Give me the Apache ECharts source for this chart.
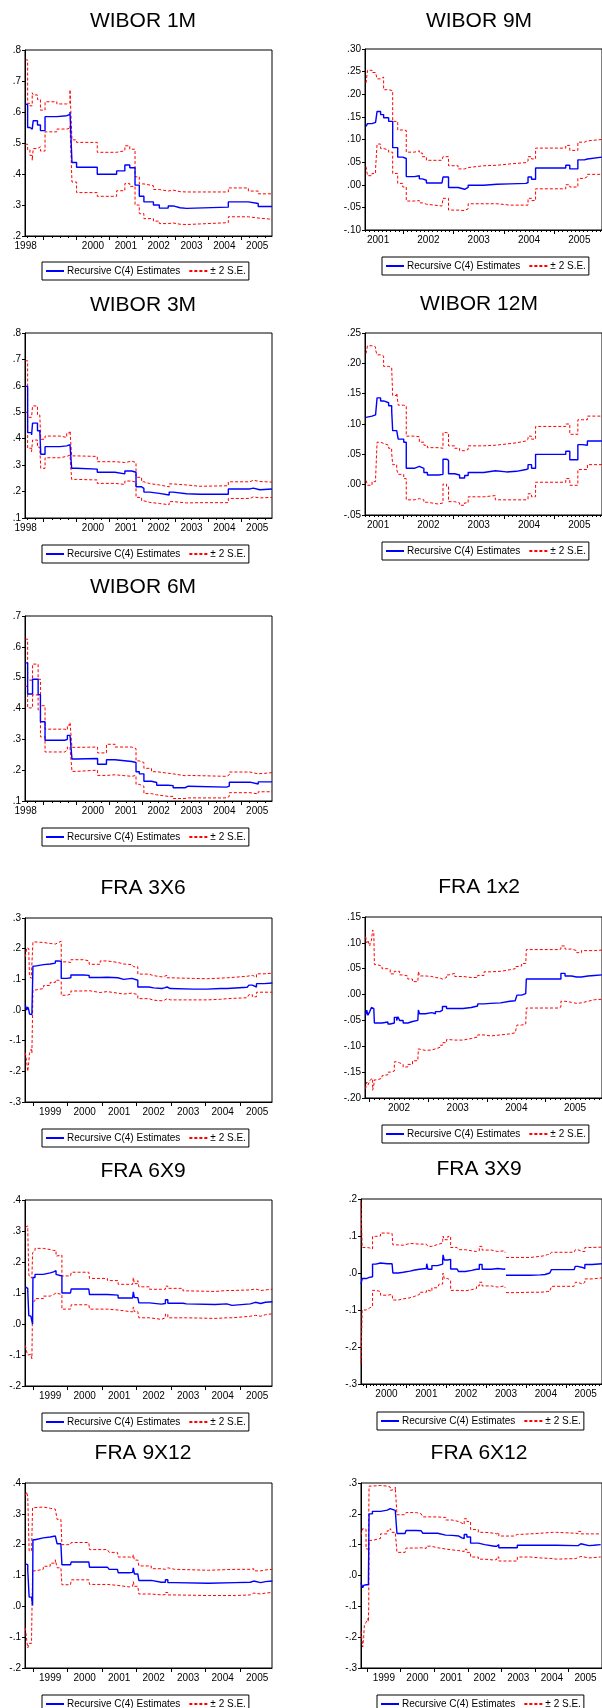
<!DOCTYPE html>
<html lang="en" style="height: 100%">
<head>
<meta charset="utf-8">
<title>Recursive C(4) estimates - WIBOR and FRA</title>
</head>
<body style="height: 100%; margin: 0; background: #ffffff">
<div id="container" style="width: 602px; height: 1708px"></div>

<script type="text/javascript" src="https://cdn.jsdelivr.net/npm/echarts/dist/echarts.min.js"></script>

<script type="text/javascript">

// Series values (decimal year where a level starts, estimate, +2 S.E., -2 S.E.)
var w1mT = [1998.44, 1998.51, 1998.58, 1998.65, 1998.68, 1998.81, 1998.90, 1999.04, 1999.40, 1999.70, 1999.80, 1999.86, 2000.00, 2000.63, 2001.22, 2001.47, 2001.62, 2001.78, 2001.91, 2002.05, 2002.34, 2002.52, 2002.79, 2002.94, 2003.15, 2003.35, 2004.62, 2005.23, 2005.53, 2005.95];
var w1mEst = [.625, .550, .545, .540, .572, .558, .540, .585, .588, .592, .600, .437, .422, .399, .410, .429, .420, .364, .328, .310, .300, .290, .297, .291, .289, .293, .310, .305, .295, .295];
var w1mUp = [.768, .628, .620, .662, .655, .640, .606, .633, .626, .630, .672, .510, .502, .470, .475, .491, .480, .391, .368, .362, .350, .345, .348, .343, .342, .342, .355, .345, .336, .334];
var w1mLo = [.496, .478, .460, .444, .482, .488, .474, .536, .545, .548, .555, .374, .340, .328, .346, .369, .360, .300, .272, .256, .248, .240, .242, .238, .237, .243, .262, .258, .254, .253];

var w3mT = [1998.44, 1998.51, 1998.63, 1998.66, 1998.81, 1998.88, 1998.91, 1999.04, 1999.49, 1999.70, 1999.80, 1999.85, 2000.00, 2000.63, 2001.17, 2001.47, 2001.68, 2001.81, 2001.98, 2002.05, 2002.23, 2002.52, 2002.82, 2002.94, 2003.35, 2003.76, 2004.62, 2005.28, 2005.38, 2005.58, 2005.95];
var w3mEst = [.598, .423, .414, .459, .430, .425, .341, .370, .373, .378, .384, .288, .285, .273, .267, .278, .273, .218, .212, .198, .193, .187, .198, .192, .190, .190, .210, .213, .207, .210, .210];
var w3mUp = [.695, .481, .485, .524, .490, .485, .398, .410, .405, .422, .430, .335, .333, .313, .310, .315, .310, .254, .237, .230, .225, .218, .229, .225, .220, .222, .237, .243, .238, .236, .236];
var w3mLo = [.500, .364, .351, .395, .368, .365, .288, .328, .333, .338, .343, .246, .244, .231, .227, .240, .235, .178, .165, .159, .155, .150, .162, .157, .158, .158, .174, .180, .176, .178, .178];

var w6mT = [1998.44, 1998.51, 1998.66, 1998.83, 1998.90, 1999.04, 1999.64, 1999.72, 1999.80, 1999.86, 2000.00, 2000.64, 2000.91, 2001.17, 2001.68, 2001.81, 2001.91, 2002.05, 2002.28, 2002.44, 2002.79, 2002.94, 2003.30, 2003.40, 2004.57, 2004.65, 2005.28, 2005.33, 2005.53, 2005.95];
var w6mEst = [.548, .447, .495, .445, .357, .297, .300, .313, .313, .236, .238, .219, .234, .228, .225, .195, .188, .164, .160, .151, .150, .143, .148, .145, .148, .161, .161, .155, .162, .162];
var w6mUp = [.625, .492, .544, .495, .409, .333, .330, .346, .355, .274, .275, .256, .284, .275, .270, .230, .225, .206, .195, .190, .188, .182, .183, .180, .185, .194, .195, .188, .192, .192];
var w6mLo = [.472, .402, .444, .395, .308, .259, .265, .275, .275, .196, .200, .183, .185, .180, .183, .154, .148, .124, .120, .115, .115, .108, .110, .110, .115, .127, .128, .123, .130, .130];

var w9mT = [2001.26, 2001.29, 2001.38, 2001.45, 2001.48, 2001.55, 2001.61, 2001.71, 2001.79, 2001.89, 2001.99, 2002.06, 2002.22, 2002.32, 2002.38, 2002.46, 2002.77, 2002.79, 2002.90, 2003.09, 2003.22, 2003.29, 2003.60, 2003.86, 2004.12, 2004.44, 2004.48, 2004.55, 2004.63, 2005.23, 2005.31, 2005.47, 2005.60, 2005.66, 2005.95];
var w9mEst = [.129, .135, .138, .140, .162, .155, .148, .140, .082, .061, .058, .018, .020, .013, .010, .004, .004, .017, -.006, -.010, -.006, -.001, .001, .002, .003, .005, .017, .012, .037, .043, .035, .055, .057, .061, .061];
var w9mUp = [.225, .253, .248, .245, .234, .238, .210, .208, .140, .121, .120, .072, .075, .070, .062, .054, .050, .062, .042, .035, .038, .042, .043, .046, .049, .052, .062, .057, .081, .087, .076, .094, .097, .100, .100];
var w9mLo = [.040, .020, .025, .035, .090, .080, .077, .072, .025, .003, -.005, -.036, -.035, -.040, -.043, -.047, -.044, -.030, -.056, -.057, -.053, -.042, -.042, -.045, -.045, -.045, -.030, -.035, -.009, .000, -.005, .014, .018, .023, .023];

var w12mT = [2001.26, 2001.29, 2001.38, 2001.45, 2001.48, 2001.55, 2001.61, 2001.71, 2001.77, 2001.79, 2001.87, 2001.90, 2002.01, 2002.06, 2002.22, 2002.32, 2002.41, 2002.48, 2002.70, 2002.79, 2002.86, 2002.90, 2003.02, 2003.12, 2003.22, 2003.29, 2003.60, 2003.83, 2004.05, 2004.25, 2004.44, 2004.48, 2004.55, 2004.63, 2005.23, 2005.31, 2005.47, 2005.56, 2005.66, 2005.95];
var w12mEst = [.111, .113, .115, .118, .143, .138, .135, .130, .122, .089, .088, .075, .070, .027, .030, .027, .020, .016, .017, .042, .040, .018, .016, .011, .015, .020, .023, .021, .022, .025, .026, .033, .027, .050, .055, .041, .066, .065, .072, .072];
var w12mUp = [.216, .229, .227, .222, .214, .212, .195, .193, .190, .147, .151, .131, .130, .080, .079, .070, .065, .061, .060, .086, .085, .064, .060, .056, .058, .064, .065, .067, .069, .072, .075, .080, .075, .096, .100, .083, .107, .107, .113, .113];
var w12mLo = [.007, -.001, .005, .010, .070, .068, .065, .060, .052, .033, .025, .017, .010, -.025, -.023, -.025, -.029, -.032, -.030, .001, -.003, -.028, -.030, -.034, -.030, -.020, -.018, -.025, -.025, -.025, -.024, -.015, -.020, .004, .010, -.001, .025, .025, .033, .033];

var f36T = [1998.78, 1998.82, 1998.85, 1998.88, 1998.90, 1998.95, 1998.97, 1999.00, 1999.06, 1999.31, 1999.50, 1999.65, 1999.74, 1999.82, 1999.98, 2000.10, 2000.47, 2000.63, 2000.95, 2001.15, 2001.46, 2001.63, 2001.87, 2001.92, 2002.04, 2002.36, 2002.50, 2002.74, 2002.81, 2002.89, 2002.98, 2003.66, 2004.05, 2004.44, 2004.63, 2005.21, 2005.26, 2005.36, 2005.48, 2005.70, 2005.94];
var f36Est = [.016, .000, .010, .000, -.013, -.015, -.018, .143, .148, .150, .153, .160, .158, .103, .105, .114, .113, .106, .107, .105, .100, .103, .105, .097, .075, .072, .070, .072, .075, .070, .068, .068, .070, .070, .074, .075, .081, .075, .086, .088, .088];
var f36Up = [.173, .203, .200, .190, .110, .103, .100, .222, .220, .217, .215, .220, .224, .157, .155, .164, .160, .149, .160, .155, .150, .148, .150, .141, .117, .112, .108, .110, .113, .105, .103, .102, .104, .105, .110, .110, .113, .107, .118, .120, .120];
var f36Lo = [-.139, -.170, -.200, -.170, -.141, -.128, -.140, .065, .070, .080, .090, .097, .093, .048, .052, .062, .063, .057, .060, .055, .052, .055, .058, .050, .037, .032, .030, .032, .037, .033, .033, .033, .035, .037, .040, .042, .050, .043, .058, .058, .058];

var f12T = [2001.93, 2001.95, 2001.97, 2002.00, 2002.01, 2002.03, 2002.05, 2002.07, 2002.08, 2002.12, 2002.21, 2002.23, 2002.31, 2002.35, 2002.42, 2002.46, 2002.48, 2002.51, 2002.57, 2002.65, 2002.73, 2002.82, 2002.83, 2002.85, 2002.95, 2003.06, 2003.12, 2003.20, 2003.24, 2003.31, 2003.35, 2003.45, 2003.59, 2003.73, 2003.84, 2003.95, 2004.06, 2004.23, 2004.39, 2004.48, 2004.51, 2004.59, 2004.66, 2004.67, 2005.22, 2005.26, 2005.33, 2005.44, 2005.53, 2005.61, 2005.72, 2005.83, 2005.96];
var f12Est = [-.040, -.030, -.040, -.033, -.035, -.025, -.027, -.030, -.055, -.055, -.052, -.053, -.057, -.055, -.044, -.050, -.043, -.050, -.055, -.052, -.050, -.050, -.030, -.037, -.035, -.037, -.033, -.030, -.023, -.027, -.027, -.027, -.025, -.022, -.018, -.017, -.016, -.013, -.012, -.010, -.001, .002, .003, .030, .030, .041, .036, .034, .034, .036, .037, .038, .038];
var f12Up = [.112, .100, .105, .094, .100, .105, .125, .120, .058, .055, .050, .050, .048, .040, .045, .045, .045, .038, .036, .030, .025, .025, .045, .036, .035, .033, .032, .030, .033, .038, .041, .035, .033, .033, .037, .044, .045, .048, .050, .054, .055, .060, .062, .087, .088, .094, .088, .085, .081, .085, .085, .086, .086];
var f12Lo = [-.182, -.169, -.175, -.172, -.165, -.162, -.185, -.175, -.165, -.162, -.157, -.155, -.150, -.148, -.130, -.127, -.132, -.135, -.140, -.135, -.128, -.125, -.105, -.108, -.107, -.105, -.102, -.098, -.093, -.087, -.088, -.088, -.085, -.082, -.078, -.080, -.078, -.076, -.074, -.072, -.059, -.057, -.055, -.026, -.024, -.013, -.015, -.017, -.016, -.013, -.010, -.009, -.009];

var f69T = [1998.78, 1998.82, 1998.85, 1998.88, 1998.90, 1998.94, 1998.97, 1998.99, 1999.00, 1999.06, 1999.30, 1999.50, 1999.60, 1999.67, 1999.70, 1999.84, 2000.09, 2000.11, 2000.62, 2000.64, 2001.16, 2001.47, 2001.89, 2001.91, 2001.94, 2002.04, 2002.07, 2002.38, 2002.72, 2002.84, 2002.91, 2003.35, 2003.45, 2004.28, 2004.62, 2004.77, 2005.30, 2005.45, 2005.60, 2005.74, 2005.94];
var f69Est = [.120, .115, .106, .027, .025, .022, .020, .000, .150, .160, .165, .168, .172, .160, .155, .100, .100, .113, .112, .095, .093, .084, .083, .104, .085, .090, .068, .064, .066, .078, .067, .065, .063, .065, .060, .065, .070, .066, .070, .072, .072];
var f69Up = [.312, .316, .305, .160, .152, .148, .145, .230, .236, .244, .240, .237, .238, .219, .222, .155, .157, .167, .163, .147, .140, .128, .125, .150, .130, .140, .120, .112, .112, .122, .115, .107, .105, .108, .108, .110, .113, .108, .110, .112, .112];
var f69Lo = [-.069, -.090, -.100, -.095, -.098, -.100, -.112, .070, .075, .082, .090, .095, .100, .097, .095, .048, .050, .062, .058, .048, .045, .039, .040, .055, .040, .040, .020, .015, .020, .032, .020, .020, .018, .020, .020, .025, .028, .025, .030, .033, .033];

var f39T = [1999.86, 1999.89, 1999.99, 2000.07, 2000.15, 2000.23, 2000.35, 2000.52, 2000.64, 2000.66, 2000.80, 2000.92, 2001.09, 2001.21, 2001.33, 2001.50, 2001.51, 2001.54, 2001.64, 2001.78, 2001.82, 2001.91, 2001.92, 2001.95, 2002.04, 2002.11, 2002.27, 2002.31, 2002.48, 2002.64, 2002.76, 2002.83, 2002.90, 2003.13, 2003.29, 2003.46, 2003.48, 2003.50, 2003.78, 2004.11, 2004.36, 2004.48, 2004.54, 2004.60, 2004.64, 2005.21, 2005.24, 2005.30, 2005.42, 2005.48, 2005.66, 2005.93];
var f39Est = [-.030, -.015, -.012, -.010, .024, .027, .025, .025, .025, .000, .002, .005, .008, .010, .012, .013, .025, .010, .020, .020, .024, .034, .049, .035, .037, .011, .010, .004, .007, .010, .010, .023, .010, .012, .010, .012, null, -.006, -.006, -.005, -.004, -.002, .000, -.002, .009, .010, .018, .015, .012, .023, .025, .027];
var f39Up = [.190, .069, .068, .065, .099, .100, .108, .107, .105, .076, .075, .080, .079, .078, .078, .077, .077, .072, .077, .080, .081, .088, .100, .090, .099, .069, .065, .063, .060, .058, .060, .072, .062, .058, .060, .055, null, .042, .042, .045, .047, .050, .050, .050, .056, .055, .063, .058, .058, .069, .070, .070];
var f39Lo = [-.244, -.100, -.095, -.090, -.047, -.050, -.060, -.058, -.055, -.073, -.070, -.067, -.063, -.058, -.052, -.050, -.045, -.050, -.040, -.035, -.030, -.010, .000, -.015, -.020, -.047, -.048, -.048, -.045, -.042, -.035, -.025, -.035, -.038, -.035, -.040, null, -.053, -.052, -.052, -.051, -.050, -.050, -.050, -.036, -.036, -.025, -.030, -.025, -.016, -.013, -.012];

var f912T = [1998.78, 1998.82, 1998.85, 1998.89, 1998.96, 1998.99, 1999.00, 1999.06, 1999.30, 1999.50, 1999.65, 1999.70, 1999.81, 1999.84, 2000.09, 2000.11, 2000.62, 2000.64, 2001.16, 2001.21, 2001.45, 2001.47, 2001.79, 2001.89, 2001.91, 2001.94, 2002.04, 2002.07, 2002.43, 2002.72, 2002.84, 2002.91, 2003.11, 2004.09, 2004.87, 2005.30, 2005.40, 2005.60, 2005.74, 2005.94];
var f912Est = [.138, .135, .117, .030, .035, .003, .216, .222, .225, .228, .232, .203, .200, .135, .135, .144, .145, .127, .127, .120, .120, .109, .110, .105, .125, .105, .105, .084, .078, .078, .086, .077, .075, .077, .078, .082, .077, .080, .082, .082];
var f912Up = [.360, .371, .355, .180, .175, .320, .320, .322, .318, .315, .317, .282, .285, .200, .198, .207, .205, .184, .180, .175, .172, .160, .158, .155, .168, .150, .155, .131, .122, .120, .125, .120, .117, .120, .120, .122, .115, .118, .120, .120];
var f912Lo = [-.070, -.110, -.135, -.120, -.105, .115, .115, .120, .130, .140, .151, .125, .120, .070, .070, .086, .088, .071, .070, .068, .068, .063, .065, .067, .080, .065, .063, .040, .037, .038, .045, .037, .035, .035, .037, .043, .040, .043, .045, .045];

var f612T = [1998.82, 1998.84, 1998.87, 1998.90, 1998.92, 1998.97, 1999.02, 1999.04, 1999.05, 1999.06, 1999.16, 1999.40, 1999.60, 1999.69, 1999.74, 1999.84, 1999.89, 2000.13, 2000.16, 2000.47, 2000.61, 2000.66, 2000.76, 2000.90, 2001.10, 2001.15, 2001.34, 2001.53, 2001.73, 2001.82, 2001.89, 2001.97, 2002.08, 2002.31, 2002.50, 2002.79, 2002.86, 2002.92, 2003.37, 2003.42, 2003.47, 2003.86, 2004.15, 2004.53, 2004.63, 2005.21, 2005.28, 2005.36, 2005.60, 2005.74, 2005.95];
var f612Est = [-.024, -.030, -.040, -.032, -.030, -.028, -.025, -.030, -.028, .200, .208, .212, .217, .220, .211, .212, .136, .137, .146, .145, .145, .137, .137, .137, .137, .131, .130, .128, .122, .120, .133, .125, .105, .100, .095, .095, .100, .090, .092, .090, .098, .098, .098, .098, .097, .097, .103, .097, .098, .100, .100];
var f612Up = [.130, .140, .152, .158, .150, .087, .087, .085, .090, .290, .292, .290, .287, .276, .280, .287, .197, .195, .204, .200, .195, .190, .190, .190, .188, .188, .180, .175, .170, .165, .184, .175, .149, .140, .137, .135, .140, .128, .128, .133, .135, .137, .140, .140, .137, .136, .143, .135, .135, .135, .135];
var f612Lo = [-.180, -.200, -.232, -.200, -.160, -.152, -.140, -.150, -.100, .114, .120, .135, .145, .152, .140, .140, .075, .080, .089, .090, .090, .088, .095, .090, .088, .086, .083, .081, .079, .078, .085, .075, .060, .053, .050, .052, .060, .047, .047, .047, .060, .057, .055, .053, .055, .058, .062, .057, .058, .060, .060];

// Tick labels (positions of the year labels on each time axis)
var labels98 = [1998.45, 2000.5, 2001.5, 2002.5, 2003.5, 2004.5, 2005.5];
var labels99 = [1999.5, 2000.5, 2001.5, 2002.5, 2003.5, 2004.5, 2005.5];
var labels00 = [2000.5, 2001.5, 2002.5, 2003.5, 2004.5, 2005.5];
var labels01 = [2001.5, 2002.5, 2003.5, 2004.5, 2005.5];
var labels02 = [2002.5, 2003.5, 2004.5, 2005.5];

var EST = 'Recursive C(4) Estimates';
var SE = '\u00b1 2 S.E.';
var FONT = '"Liberation Sans", Arial, sans-serif';

// panel layout: box = [left, top, width, height]
var panels = [
    {name: 'WIBOR 1M', t: w1mT, est: w1mEst, up: w1mUp, lo: w1mLo, box: [25, 50, 247, 186], x: [1998.43, 2005.95], y: [0.2, 0.8, 0.1], dec: 1, labels: labels98, minor: 0.25, title: [143, 21], legend: [42, 262]},
    {name: 'WIBOR 9M', t: w9mT, est: w9mEst, up: w9mUp, lo: w9mLo, box: [365, 49, 244, 181], x: [2001.24, 2005.95], y: [-0.1, 0.3, 0.05], dec: 2, labels: labels01, minor: 1 / 12, title: [479, 21], legend: [382, 257]},
    {name: 'WIBOR 3M', t: w3mT, est: w3mEst, up: w3mUp, lo: w3mLo, box: [25, 333, 247, 185], x: [1998.43, 2005.95], y: [0.1, 0.8, 0.1], dec: 1, labels: labels98, minor: 0.25, title: [143, 305], legend: [42, 545]},
    {name: 'WIBOR 12M', t: w12mT, est: w12mEst, up: w12mUp, lo: w12mLo, box: [365, 333, 244, 182], x: [2001.24, 2005.95], y: [-0.05, 0.25, 0.05], dec: 2, labels: labels01, minor: 1 / 12, title: [479, 304], legend: [382, 542]},
    {name: 'WIBOR 6M', t: w6mT, est: w6mEst, up: w6mUp, lo: w6mLo, box: [25, 616, 247, 185], x: [1998.43, 2005.95], y: [0.1, 0.7, 0.1], dec: 1, labels: labels98, minor: 0.25, title: [143, 587], legend: [42, 828]},
    {name: 'FRA 3X6', t: f36T, est: f36Est, up: f36Up, lo: f36Lo, box: [25, 918, 247, 184], x: [1998.77, 2005.93], y: [-0.3, 0.3, 0.1], dec: 1, labels: labels99, minor: 0, title: [143, 888], legend: [42, 1129]},
    {name: 'FRA 1x2', t: f12T, est: f12Est, up: f12Up, lo: f12Lo, box: [365, 917, 244, 181], x: [2001.92, 2005.96], y: [-0.2, 0.15, 0.05], dec: 2, labels: labels02, minor: 1 / 12, title: [479, 887], legend: [382, 1125]},
    {name: 'FRA 6X9', t: f69T, est: f69Est, up: f69Up, lo: f69Lo, box: [25, 1200, 247, 186], x: [1998.77, 2005.93], y: [-0.2, 0.4, 0.1], dec: 1, labels: labels99, minor: 0, title: [143, 1171], legend: [42, 1413]},
    {name: 'FRA 3X9', t: f39T, est: f39Est, up: f39Up, lo: f39Lo, box: [361, 1199, 247, 185], x: [1999.86, 2005.91], y: [-0.3, 0.2, 0.1], dec: 1, labels: labels00, minor: 1 / 12, title: [479, 1169], legend: [377, 1412]},
    {name: 'FRA 9X12', t: f912T, est: f912Est, up: f912Up, lo: f912Lo, box: [25, 1483, 247, 185], x: [1998.77, 2005.93], y: [-0.2, 0.4, 0.1], dec: 1, labels: labels99, minor: 0, title: [143, 1453], legend: [42, 1695]},
    {name: 'FRA 6X12', t: f612T, est: f612Est, up: f612Up, lo: f612Lo, box: [361, 1483, 247, 185], x: [1998.82, 2005.99], y: [-0.3, 0.3, 0.1], dec: 1, labels: labels99, minor: 0, title: [479, 1453], legend: [377, 1695]}
];

function ticksBetween(lo, hi, step) {
    var out = [];
    var n = Math.ceil(lo / step - 1e-9);
    for (var v = n * step; v < hi - 1e-9; v = (++n) * step) {
        if (v > lo + 1e-9) out.push(+v.toFixed(4));
    }
    return out;
}

function pairs(t, v) {
    return t.map(function (x, k) {
        return [x, v[k] == null ? '-' : v[k]];
    });
}

function decimalFormatter(dec) {
    return function (v) {
        return v.toFixed(dec).replace('0.', '.');
    };
}

var dom = document.getElementById('container');
var myChart = echarts.init(dom, null, {renderer: 'canvas'});

var grids = [], xAxes = [], yAxes = [], series = [], titles = [], legends = [];

panels.forEach(function (p, i) {
    grids.push({
        left: p.box[0], top: p.box[1], width: p.box[2], height: p.box[3],
        show: true, borderColor: '#000', borderWidth: 1, backgroundColor: 'transparent'
    });
    xAxes.push({
        type: 'value', gridIndex: i, min: p.x[0], max: p.x[1], position: 'bottom',
        axisLine: {show: true, onZero: false, lineStyle: {color: '#000', width: 1}},
        splitLine: {show: false},
        axisTick: {show: true, customValues: ticksBetween(p.x[0], p.x[1], 1), length: 4, lineStyle: {color: '#000', width: 1}},
        axisLabel: {
            customValues: p.labels, margin: 5, fontSize: 10, color: '#000', fontFamily: FONT,
            formatter: function (v) { return String(Math.floor(v + 1e-6)); }
        }
    });
    yAxes.push({
        type: 'value', gridIndex: i, min: p.y[0], max: p.y[1], interval: p.y[2],
        axisLine: {show: true, onZero: false, lineStyle: {color: '#000', width: 1}},
        splitLine: {show: false},
        axisTick: {show: true, length: 3, lineStyle: {color: '#000', width: 1}},
        axisLabel: {margin: 4, fontSize: 10, color: '#000', fontFamily: FONT, formatter: decimalFormatter(p.dec)}
    });
    series.push({
        name: EST, type: 'line', xAxisIndex: i, yAxisIndex: i, step: 'end', symbol: 'none',
        data: pairs(p.t, p.est), lineStyle: {color: '#0000ff', width: 1.4}, itemStyle: {color: '#0000ff'},
        z: 3, silent: true
    });
    [p.up, p.lo].forEach(function (band) {
        series.push({
            name: SE, type: 'line', xAxisIndex: i, yAxisIndex: i, step: 'end', symbol: 'none',
            data: pairs(p.t, band), lineStyle: {color: '#ff0000', width: 1, type: [3, 2]}, itemStyle: {color: '#ff0000'},
            z: 2, silent: true
        });
    });
    titles.push({
        text: p.name, left: p.title[0], top: p.title[1], textAlign: 'center', textVerticalAlign: 'middle', padding: 0,
        textStyle: {fontSize: 21, fontWeight: 'normal', color: '#000', fontFamily: FONT}
    });
    legends.push({
        data: [EST, SE], left: p.legend[0], top: p.legend[1], orient: 'horizontal',
        itemWidth: 18, itemHeight: 10, itemGap: 8, padding: [4, 3, 4, 3],
        borderColor: '#000', borderWidth: 1, backgroundColor: '#fff', selectedMode: false,
        itemStyle: {opacity: 0},
        textStyle: {fontSize: 10, color: '#000', fontFamily: FONT, padding: [0, 0, 0, -2]}
    });
});

// second time axis per panel carrying only the short (monthly / quarterly) ticks
panels.forEach(function (p, i) {
    xAxes.push({
        type: 'value', gridIndex: i, min: p.x[0], max: p.x[1], position: 'bottom',
        axisLine: {show: false, onZero: false}, splitLine: {show: false}, axisLabel: {show: false},
        axisTick: {show: p.minor > 0, customValues: p.minor > 0 ? ticksBetween(p.x[0], p.x[1], p.minor) : [], length: 2, lineStyle: {color: '#000', width: 1}}
    });
});

var option = {
    backgroundColor: '#ffffff',
    animation: false,
    title: titles,
    legend: legends,
    grid: grids,
    xAxis: xAxes,
    yAxis: yAxes,
    series: series
};

if (option && typeof option === 'object') {
    myChart.setOption(option);
}

window.addEventListener('resize', myChart.resize);
</script>
</body>
</html>
